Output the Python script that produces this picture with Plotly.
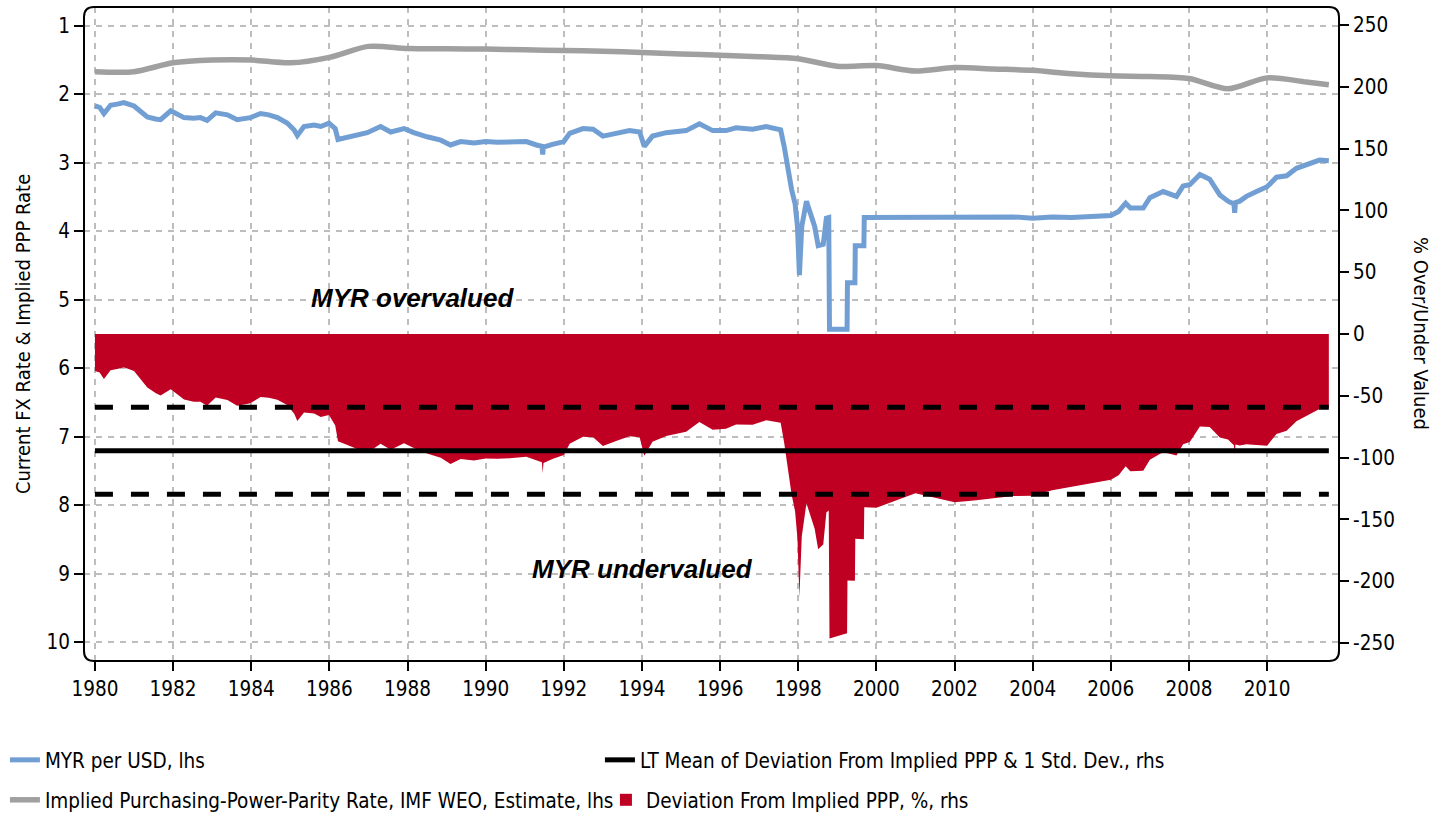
import plotly.graph_objects as go

# ---------------- data ----------------
fx_dates = [
    1980.00, 1980.12, 1980.23, 1980.40, 1980.60, 1980.74, 1981.00, 1981.20, 1981.34, 1981.55,
    1981.68, 1981.94, 1982.10, 1982.28, 1982.53, 1982.70, 1982.87, 1983.09, 1983.39, 1983.64,
    1983.98, 1984.24, 1984.45, 1984.67, 1984.92, 1985.10, 1985.18, 1985.35, 1985.61, 1985.78,
    1985.99, 1986.15, 1986.22, 1986.54, 1986.97, 1987.31, 1987.57, 1987.91, 1988.16, 1988.50,
    1988.85, 1989.10, 1989.36, 1989.70, 1990.00, 1990.30, 1990.62, 1991.04, 1991.30, 1991.44,
    1991.46, 1991.48, 1991.71, 1992.00, 1992.15, 1992.49, 1992.75, 1993.00, 1993.34, 1993.68,
    1993.94, 1994.06, 1994.27, 1994.62, 1995.13, 1995.47, 1995.81, 1996.15, 1996.41, 1996.83,
    1997.18, 1997.47, 1997.55, 1997.64, 1997.75, 1997.83, 1997.92, 1997.98, 1998.03, 1998.09,
    1998.21, 1998.30, 1998.42, 1998.51, 1998.64, 1998.72, 1998.78, 1998.80, 1999.25, 1999.26,
    1999.45, 1999.46, 1999.68, 1999.69, 2000.00, 2000.50, 2001.00, 2001.50, 2002.00, 2002.50,
    2003.00, 2003.50, 2004.00, 2004.50, 2005.00, 2005.55, 2006.00, 2006.20, 2006.38, 2006.50,
    2006.83, 2007.00, 2007.34, 2007.68, 2007.85, 2008.02, 2008.28, 2008.53, 2008.79, 2009.00,
    2009.15, 2009.17, 2009.19, 2009.30, 2009.47, 2009.73, 2010.00, 2010.24, 2010.50, 2010.75,
    2011.00, 2011.34, 2011.58,
]

myr_per_usd = [
    2.17, 2.19, 2.28, 2.16, 2.14, 2.12, 2.17, 2.26, 2.33, 2.36,
    2.37, 2.24, 2.28, 2.34, 2.35, 2.34, 2.38, 2.27, 2.30, 2.37,
    2.34, 2.28, 2.30, 2.34, 2.42, 2.52, 2.60, 2.47, 2.45, 2.47,
    2.42, 2.50, 2.66, 2.62, 2.56, 2.47, 2.55, 2.50, 2.56, 2.62,
    2.67, 2.74, 2.69, 2.71, 2.69, 2.70, 2.70, 2.69, 2.74, 2.76,
    2.88, 2.77, 2.73, 2.69, 2.57, 2.50, 2.51, 2.61, 2.57, 2.53,
    2.55, 2.76, 2.61, 2.56, 2.53, 2.43, 2.53, 2.53, 2.49, 2.51,
    2.47, 2.51, 2.52, 2.76, 3.14, 3.39, 3.60, 3.93, 4.64, 3.93,
    3.56, 3.73, 3.93, 4.21, 4.19, 3.81, 3.80, 5.43, 5.43, 4.75,
    4.75, 4.21, 4.21, 3.80, 3.80, 3.80, 3.80, 3.80, 3.80, 3.80,
    3.80, 3.79, 3.81, 3.79, 3.80, 3.78, 3.77, 3.71, 3.59, 3.66,
    3.66, 3.51, 3.42, 3.49, 3.34, 3.32, 3.17, 3.24, 3.47, 3.56,
    3.60, 3.73, 3.58, 3.56, 3.49, 3.42, 3.35, 3.21, 3.19, 3.08,
    3.03, 2.96, 2.97,
]

deviation_pct = [
    -30.0, -31.1, -36.5, -29.3, -28.1, -26.9, -29.9, -37.5, -43.3, -47.7,
    -49.8, -44.7, -48.4, -53.0, -54.7, -54.8, -58.1, -51.3, -53.3, -58.0,
    -56.0, -51.0, -51.5, -53.2, -57.4, -64.5, -70.4, -63.4, -64.3, -67.1,
    -65.6, -74.1, -86.7, -90.7, -96.2, -88.7, -93.6, -88.4, -92.3, -96.6,
    -100.1, -105.1, -101.2, -102.4, -100.7, -101.0, -100.6, -99.3, -102.5, -103.8,
    -112.5, -104.4, -101.2, -97.8, -88.8, -83.2, -83.5, -90.5, -86.6, -82.8,
    -83.6, -98.4, -87.1, -82.6, -79.1, -71.2, -77.4, -76.6, -73.2, -73.5,
    -69.8, -71.4, -71.8, -87.9, -113.2, -129.8, -143.6, -165.7, -212.9, -163.8,
    -136.9, -146.5, -157.5, -174.1, -170.3, -144.4, -142.7, -246.3, -242.0, -199.3,
    -199.6, -165.6, -166.0, -140.1, -140.5, -134.6, -128.9, -132.4, -136.0, -134.6,
    -133.1, -131.1, -130.9, -126.3, -123.5, -120.2, -117.9, -114.2, -107.0, -111.0,
    -110.6, -101.7, -95.4, -98.3, -89.2, -87.3, -74.9, -75.2, -83.7, -85.4,
    -89.9, -97.0, -89.4, -90.2, -89.2, -89.7, -90.3, -80.9, -78.2, -70.6,
    -66.5, -60.7, -59.7,
]

ppp_dates = [
    1980.0, 1981.0, 1982.0, 1983.0, 1984.0, 1985.0, 1986.0, 1987.0, 1988.0, 1989.0,
    1990.0, 1991.0, 1992.0, 1993.0, 1994.0, 1995.0, 1996.0, 1997.0, 1998.0, 1999.0,
    2000.0, 2001.0, 2002.0, 2003.0, 2004.0, 2005.0, 2006.0, 2007.0, 2008.0, 2009.0,
    2010.0, 2011.0, 2011.58,
]
implied_ppp = [
    1.67, 1.67, 1.54, 1.50, 1.50, 1.54, 1.46, 1.30, 1.33, 1.335,
    1.34, 1.35, 1.36, 1.37, 1.39, 1.41, 1.43, 1.45, 1.48, 1.59,
    1.58, 1.66, 1.61, 1.63, 1.65, 1.70, 1.73, 1.74, 1.77, 1.92,
    1.76, 1.82, 1.86,
]

lt_mean = -94.4
lt_upper = -59.2
lt_lower = -129.7

x_tick_vals = list(range(1980, 2011, 2))
left_tick_vals = list(range(1, 11))
right_tick_vals = [250, 200, 150, 100, 50, 0, -50, -100, -150, -200, -250]

# ---------------- styling ----------------
FONT = "DejaVu Sans Condensed, Liberation Sans Narrow, Arial Narrow, sans-serif"
RED = "#C00022"
BLUE = "#729FD3"
GREY = "#A0A0A0"
GRID = "#BDBDBD"

fig = go.Figure()

# deviation area (rhs)
fig.add_trace(go.Scatter(
    x=fx_dates, y=deviation_pct, yaxis="y2", mode="lines",
    fill="tozeroy", fillcolor=RED, line=dict(width=0, color=RED),
    showlegend=False, hoverinfo="skip",
))
# LT mean and +/- 1 std (rhs)
span = [fx_dates[0], fx_dates[-1]]
fig.add_trace(go.Scatter(
    x=span, y=[lt_upper, lt_upper], yaxis="y2", mode="lines",
    line=dict(color="black", width=5, dash="18px,18px"), showlegend=False,
))
fig.add_trace(go.Scatter(
    x=span, y=[lt_lower, lt_lower], yaxis="y2", mode="lines",
    line=dict(color="black", width=5, dash="18px,18px"), showlegend=False,
))
fig.add_trace(go.Scatter(
    x=span, y=[lt_mean, lt_mean], yaxis="y2", mode="lines",
    line=dict(color="black", width=5),
    name="LT Mean of Deviation From Implied PPP & 1 Std. Dev., rhs", legend="legend",
    legendrank=2,
))
# lhs lines
fig.add_trace(go.Scatter(
    x=ppp_dates, y=implied_ppp, mode="lines",
    line=dict(color=GREY, width=5.5, shape="spline", smoothing=0.8),
    name="Implied Purchasing-Power-Parity Rate, IMF WEO, Estimate, lhs", legend="legend2",
    legendrank=1,
))
fig.add_trace(go.Scatter(
    x=fx_dates, y=myr_per_usd, mode="lines",
    line=dict(color=BLUE, width=5),
    name="MYR per USD, lhs", legend="legend", legendrank=1,
))
# legend entry for the red area
fig.add_trace(go.Scatter(
    x=[None], y=[None], mode="markers",
    marker=dict(symbol="square", size=12, color=RED),
    name="Deviation From Implied PPP, %, rhs", legend="legend2", legendrank=2,
))

axis_common = dict(
    ticks="outside", ticklen=9, tickwidth=2, tickcolor="black",
    showline=False, zeroline=False,
    tickfont=dict(family=FONT, size=20.5, color="black"),
)

legend_common = dict(
    orientation="h", x=-0.063, xanchor="left", yanchor="middle",
    entrywidthmode="pixels", bgcolor="rgba(0,0,0,0)",
    font=dict(family=FONT, size=20.5, color="black"), traceorder="normal",
)

fig.update_layout(
    width=1441, height=819,
    margin=dict(l=84, r=102, t=7, b=158, autoexpand=False),
    paper_bgcolor="white", plot_bgcolor="white",
    font=dict(family=FONT, size=21, color="black"),
    xaxis=dict(
        range=[1979.72, 2011.84], tickvals=x_tick_vals,
        ticktext=[str(v) for v in x_tick_vals],
        showgrid=True, gridcolor=GRID, gridwidth=1.5, griddash="6px,6px",
        automargin=False, **axis_common,
    ),
    yaxis=dict(
        range=[10.275, 0.725], tickvals=left_tick_vals,
        ticktext=[str(v) for v in left_tick_vals],
        showgrid=True, gridcolor=GRID, gridwidth=1.5, griddash="6px,6px",
        automargin=False, **axis_common,
    ),
    yaxis2=dict(
        overlaying="y", side="right", range=[-264.5, 264.5],
        tickvals=right_tick_vals,
        ticktext=[str(v) for v in right_tick_vals],
        showgrid=False, automargin=False, **axis_common,
    ),
    legend=dict(y=-0.1514, entrywidth=550, **legend_common),
    legend2=dict(y=-0.2125, entrywidth=556, **legend_common),
    showlegend=True,
)

# rounded frame around the plot area
rx, ry = 10 / 1255, 10 / 654
frame = (
    f"M {rx},0 L {1-rx},0 Q 1,0 1,{ry} L 1,{1-ry} Q 1,1 {1-rx},1 "
    f"L {rx},1 Q 0,1 0,{1-ry} L 0,{ry} Q 0,0 {rx},0 Z"
)
fig.add_shape(type="path", path=frame, xref="paper", yref="paper",
              line=dict(color="black", width=2), layer="above")

# axis titles and text labels
fig.add_annotation(text="Current FX Rate & Implied PPP Rate", textangle=-90,
                   xref="paper", yref="paper", x=(23 - 84) / 1255, y=(661 - 334) / 654,
                   xanchor="center", yanchor="middle",
                   showarrow=False, font=dict(family=FONT, size=20, color="black"))
fig.add_annotation(text="% Over/Under Valued", textangle=90,
                   xref="paper", yref="paper", x=(1421 - 84) / 1255, y=(661 - 333) / 654,
                   xanchor="center", yanchor="middle",
                   showarrow=False, font=dict(family=FONT, size=20, color="black"))
fig.add_annotation(text="<b><i>MYR overvalued</i></b>", xref="paper", yref="paper",
                   x=(412 - 84) / 1255, y=(661 - 298) / 654, showarrow=False,
                   xanchor="center", yanchor="middle",
                   font=dict(family="Liberation Sans, Arial, sans-serif", size=26, color="black"))
fig.add_annotation(text="<b><i>MYR undervalued</i></b>", xref="paper", yref="paper",
                   x=(642 - 84) / 1255, y=(661 - 569) / 654, showarrow=False,
                   xanchor="center", yanchor="middle",
                   font=dict(family="Liberation Sans, Arial, sans-serif", size=26, color="black"))

fig.write_html("out.html", config={"displayModeBar": False},
               post_script="document.body.style.margin='0px';")
